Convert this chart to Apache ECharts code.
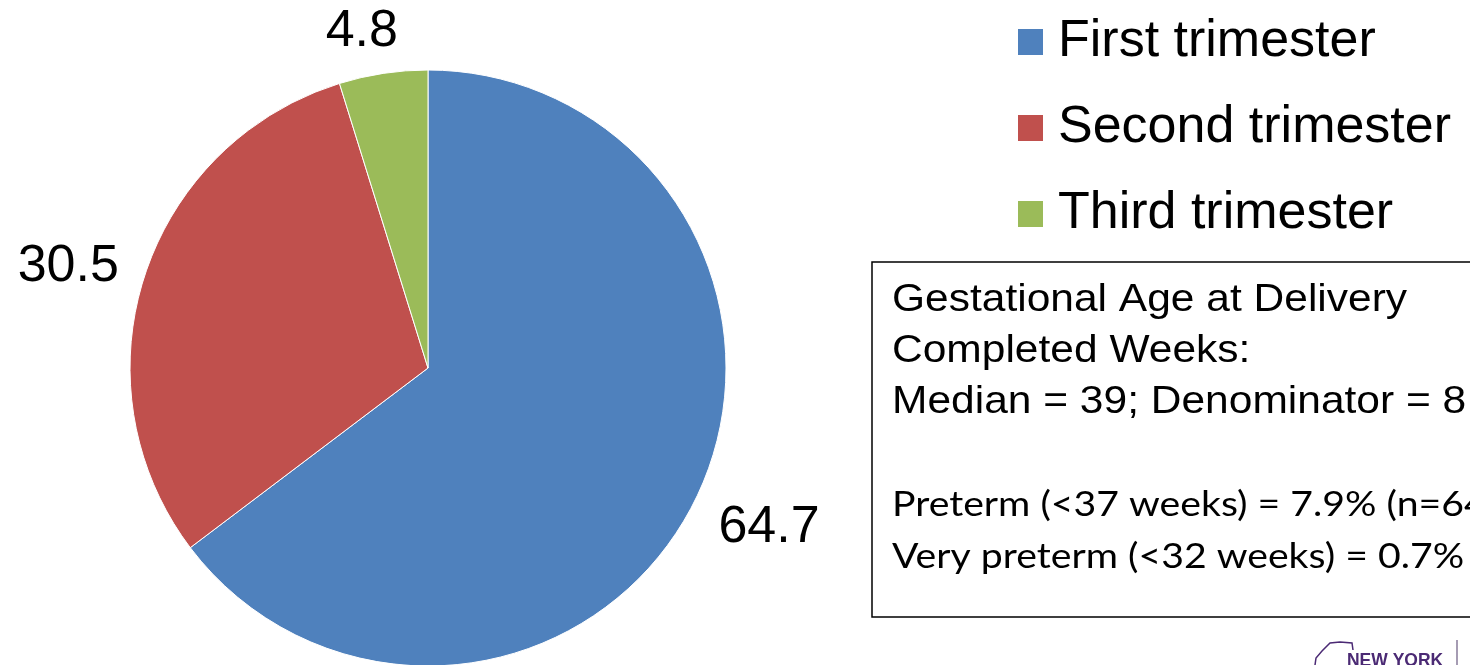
<!DOCTYPE html>
<html>
<head>
<meta charset="utf-8">
<script src="https://cdn.jsdelivr.net/npm/echarts@6/dist/echarts.min.js"></script>
<style>
html,body{margin:0;padding:0;background:#fff;}
#chart{width:1470px;height:665px;}
</style>
</head>
<body>
<div id="chart"></div>
<script>
const categories = ['First trimester', 'Second trimester', 'Third trimester'];
const values = [64.7, 30.5, 4.8];
const colors = ['#4F81BD', '#C0504D', '#9BBB59'];
const boxLines = ['Gestational Age at Delivery', 'Completed Weeks:', 'Median = 39; Denominator = 8'];
const noteLines = ['Preterm (<37 weeks) = 7.9% (n=64', 'Very preterm (<32 weeks) = 0.7%'];

// per-slice label placement tuning (label line lengths, not data)
const labelTune = [
  { length: 61, length2: 0, dist: -31 },
  { length: 32, length2: 0, dist: -5 },
  { length: 42, length2: 0, dist: -21 }
];

const chart = echarts.init(document.getElementById('chart'));

const graphics = [
  { type: 'rect', shape: { x: 872, y: 262, width: 700, height: 355 },
    style: { fill: 'none', stroke: '#000', lineWidth: 1.5 } }
];
boxLines.forEach((t, i) => {
  graphics.push({ type: 'text', x: 892, y: 300 + i * 51, scaleX: 1.09,
    style: { text: t, fill: '#000', font: '39px "Liberation Sans", Arial, sans-serif', textVerticalAlign: 'middle' } });
});
noteLines.forEach((t, i) => {
  graphics.push({ type: 'text', x: 892, y: 505 + i * 52, scaleX: 1.12,
    style: { text: t, fill: '#000', font: '35px Lato, "Noto Sans", sans-serif', textVerticalAlign: 'middle' } });
});
// logo fragment
graphics.push({ type: 'text', x: 1347, y: 651, scaleX: 0.92,
  style: { text: 'NEW YORK', fill: '#4B2A74', font: 'bold 19px "Liberation Sans", Arial, sans-serif' } });
graphics.push({ type: 'polyline', shape: { points: [[1315,665],[1316,658],[1322,651],[1330,643],[1340,642],[1352,643],[1353,650]] },
  style: { stroke: '#4B2A74', lineWidth: 1.5, fill: 'none' } });
graphics.push({ type: 'line', shape: { x1: 1457, y1: 640, x2: 1457, y2: 665 },
  style: { stroke: '#6a5a80', lineWidth: 1.2 } });

chart.setOption({
  animation: false,
  color: colors,
  legend: {
    orient: 'vertical',
    left: 1016,
    top: 12,
    padding: 0,
    icon: 'rect',
    itemWidth: 27,
    itemHeight: 28,
    itemGap: 26,
    data: categories,
    textStyle: { fontFamily: '"Liberation Sans", Arial, sans-serif', fontSize: 52, color: '#000', lineHeight: 60, padding: [0, 0, 0, 9] }
  },
  graphic: graphics,
  series: [{
    type: 'pie',
    center: [428, 368],
    radius: 298,
    startAngle: 90,
    clockwise: true,
    avoidLabelOverlap: false,
    itemStyle: { borderColor: '#fff', borderWidth: 1 },
    label: {
      show: true,
      position: 'outside',
      formatter: '{c}',
      fontFamily: '"Liberation Sans", Arial, sans-serif',
      fontSize: 52,
      color: '#000'
    },
    labelLine: { show: false },
    emphasis: { disabled: true },
    data: categories.map((name, i) => ({
      name: name,
      value: values[i],
      label: { distanceToLabelLine: labelTune[i].dist },
      labelLine: { show: false, length: labelTune[i].length, length2: labelTune[i].length2 }
    }))
  }]
});
</script>
</body>
</html>
